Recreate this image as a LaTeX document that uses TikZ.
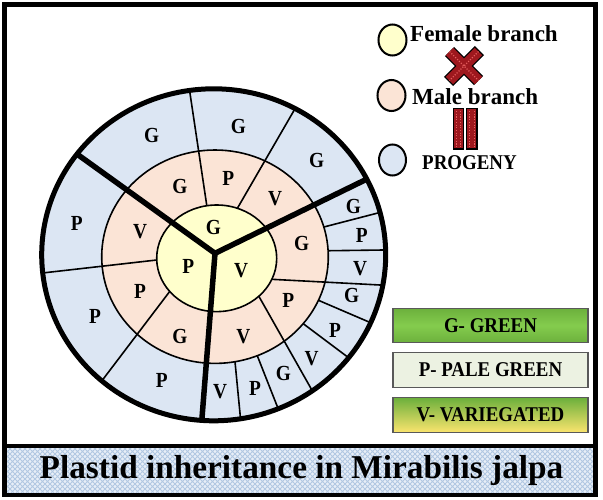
\documentclass[tikz,border=0pt]{standalone}
\usepackage{fontspec}
\setmainfont{Liberation Serif}
\newfontfamily\keyfont{Liberation Serif}[FakeStretch=0.9]
\usetikzlibrary{patterns.meta}
\definecolor{ringblue}{RGB}{220,230,243}
\definecolor{ringpink}{RGB}{251,228,214}
\definecolor{ringyellow}{RGB}{255,255,204}
\definecolor{xred}{RGB}{158,24,30}
\definecolor{xdot}{RGB}{230,95,95}
\definecolor{bannerbg}{RGB}{232,239,247}
\definecolor{bannerhatch}{RGB}{178,200,226}
\definecolor{gmid}{RGB}{132,204,78}
\definecolor{gedge}{RGB}{108,176,60}
\definecolor{palefill}{RGB}{236,242,226}
\definecolor{vyellow}{RGB}{250,228,110}
\tikzdeclarepattern{
  name=diamondgrid,
  type=uncolored,
  bottom left={(-1pt,-1pt)},
  top right={(6pt,6pt)},
  tile size={(5pt,5pt)},
  code={\draw[line width=1pt] (0pt,0pt) -- (5pt,5pt) (0pt,5pt) -- (5pt,0pt);}
}
\begin{document}
\begin{tikzpicture}[x=1pt,y=-1pt,
  lab/.style={font=\keyfont\fontsize{21.5}{21.5}\selectfont\bfseries, inner sep=0pt},
  divline/.style={line width=1.6pt, shorten <=-6pt, shorten >=-10pt},
  ringborder/.style={line width=1.6pt},
  thickline/.style={line width=5.5pt},
  legtext/.style={font=\fontsize{23}{23}\selectfont\bfseries, inner sep=0pt},
  keybox/.style={draw=black!65, line width=1.3pt, minimum width=195pt, minimum height=34.5pt,
    font=\keyfont\fontsize{21}{21}\selectfont\bfseries, inner sep=0pt},
  legcircle/.style={draw=black, line width=2pt}
]
\useasboundingbox (0,0) rectangle (603,499);

% frame and banner
\fill[bannerbg] (4.3,445.5) rectangle (595.5,495);
\fill[pattern=diamondgrid, pattern color=bannerhatch] (4.3,445.5) rectangle (595.5,495);
\draw[line width=4.7pt] (4.3,4.3) rectangle (595.5,495);
\draw[line width=4pt] (4.3,445.5) -- (595.5,445.5);
\node[font=\fontsize{33.3}{33.3}\selectfont\bfseries, inner sep=0pt] (title) at (301.5,470.5) {Plastid inheritance in Mirabilis jalpa};

% coordinates of dividing lines
\coordinate (C) at (215,253.3);
\coordinate (TUL) at (78.3,155);
\coordinate (TUR) at (365,180);
\coordinate (TD) at (201.7,421.7);
\coordinate (L1a) at (206.7,205);   \coordinate (L1b) at (190,93.3);
\coordinate (L2a) at (238.3,206.7); \coordinate (L2b) at (293.3,111.7);
\coordinate (L3a) at (156.7,260);   \coordinate (L3b) at (45,272.7);
\coordinate (L4a) at (168.3,293.3); \coordinate (L4b) at (105,376.7);
\coordinate (L5a) at (271.7,279.3); \coordinate (L5b) at (380,285);
\coordinate (L6a) at (260,298.3);   \coordinate (L6b) at (310,386.7);
\coordinate (B1a) at (325,226.7);   \coordinate (B1b) at (376.7,213.3);
\coordinate (B2a) at (330,250.7);   \coordinate (B2b) at (383.3,250);
\coordinate (B3a) at (321.7,301.7); \coordinate (B3b) at (368.3,321.7);
\coordinate (B4a) at (305,325);     \coordinate (B4b) at (345,355);
\coordinate (B5a) at (258.3,358.3); \coordinate (B5b) at (276.7,405);
\coordinate (B6a) at (235,361.7);   \coordinate (B6b) at (240,413.3);

% circle
\fill[ringblue] (213.7,254.8) ellipse [x radius=172, y radius=166];
\begin{scope}
  \clip (213.7,254.8) ellipse [x radius=172, y radius=166];
  \draw[divline] (B1a) -- (B1b);
  \draw[divline] (B2a) -- (B2b);
  \draw[divline] (B3a) -- (B3b);
  \draw[divline] (B4a) -- (B4b);
  \draw[divline] (B5a) -- (B5b);
  \draw[divline] (B6a) -- (B6b);
  \filldraw[fill=ringpink, ringborder] (215,256.7) ellipse [x radius=113.3, y radius=106.7];
  \draw[divline] (L1a) -- (L1b);
  \draw[divline] (L2a) -- (L2b);
  \draw[divline] (L3a) -- (L3b);
  \draw[divline] (L4a) -- (L4b);
  \draw[divline] (L5a) -- (L5b);
  \draw[divline] (L6a) -- (L6b);
  \filldraw[fill=ringyellow, ringborder] (216.7,258.3) ellipse [x radius=60, y radius=53.3];
  \draw[thickline, shorten <=-10pt] (TUL) -- (C) -- (TUR);
  \draw[thickline, shorten >=-10pt] (C) -- (TD);
\end{scope}
\draw[line width=5pt] (213.7,254.8) ellipse [x radius=172, y radius=166];

% labels: female
\node[lab] (yG) at (213.3,227.5) {G};
\node[lab] (yP) at (188.3,266) {P};
\node[lab] (yV) at (241,271) {V};
% labels: male
\node[lab] (pG1) at (180,186.7) {G};
\node[lab] (pP1) at (228.3,178.3) {P};
\node[lab] (pV1) at (275,198.3) {V};
\node[lab] (pV2) at (140,231.7) {V};
\node[lab] (pP2) at (140,291.7) {P};
\node[lab] (pG2) at (180,336.7) {G};
\node[lab] (pG3) at (301.7,243.3) {G};
\node[lab] (pP3) at (288.3,300) {P};
\node[lab] (pV3) at (243.3,336.7) {V};
% labels: progeny
\node[lab] (bG1) at (151.7,135) {G};
\node[lab] (bG2) at (238.3,126.7) {G};
\node[lab] (bG3) at (316.7,160) {G};
\node[lab] (bP1) at (76.7,223.3) {P};
\node[lab] (bP2) at (95,316.7) {P};
\node[lab] (bP3) at (161.7,380) {P};
\node[lab] (bG4) at (353.3,206.7) {G};
\node[lab] (bP4) at (361.7,235) {P};
\node[lab] (bV4) at (360,268.3) {V};
\node[lab] (bG5) at (351.7,295) {G};
\node[lab] (bP5) at (335,330) {P};
\node[lab] (bV5) at (311.7,358.3) {V};
\node[lab] (bG6) at (283.3,373.3) {G};
\node[lab] (bP6) at (255,388.3) {P};
\node[lab] (bV6) at (220,391.7) {V};

% legend
\filldraw[fill=ringyellow, legcircle] (392.5,40) ellipse [x radius=14, y radius=15.5];
\filldraw[fill=ringpink, legcircle] (391.5,95.5) ellipse [x radius=14, y radius=15.5];
\filldraw[fill=ringblue, legcircle] (392.5,160) ellipse [x radius=13.5, y radius=15.5];
\node[legtext, anchor=base west] (fem) at (410,41.5) {Female branch};
\node[legtext, anchor=base west] (male) at (412,104) {Male branch};
\node[legtext, font=\keyfont\fontsize{21}{21}\selectfont\bfseries, anchor=base west] (prog) at (422,169.3) {PROGENY};

% cross sign
\coordinate (xa) at (449.5,51.5); \coordinate (xb) at (478.5,80.5);
\coordinate (xc) at (478.5,51.5); \coordinate (xd) at (449.5,80.5);
\draw[black, line width=13pt, shorten <=-1.3pt, shorten >=-1.3pt] (xa) -- (xb) (xc) -- (xd);
\draw[xred, line width=10.4pt] (xa) -- (xb) (xc) -- (xd);
\draw[xdot, line width=1.1pt, dash pattern=on 1.1pt off 1.6pt] (xa) -- (xb) (xc) -- (xd);

% equals sign
\filldraw[fill=xred, line width=1.3pt] (453.5,108.5) rectangle (463.5,149);
\filldraw[fill=xred, line width=1.3pt] (466.5,108.5) rectangle (477,149);
\draw[xdot, line width=1.1pt, dash pattern=on 1.1pt off 1.6pt] (456.2,111) -- (456.2,146.5) (460.8,111) -- (460.8,146.5) (469.2,111) -- (469.2,146.5) (474.3,111) -- (474.3,146.5);

% key boxes
\node[keybox, top color=gedge, bottom color=gedge, middle color=gmid] (kG) at (490.5,325.5) {G- GREEN};
\node[keybox, fill=palefill] (kP) at (490.5,370) {P- PALE GREEN};
\node[keybox, top color=gedge, middle color=gmid!80!vyellow, bottom color=vyellow] (kV) at (490.5,415) {V- VARIEGATED};
\end{tikzpicture}
\end{document}
